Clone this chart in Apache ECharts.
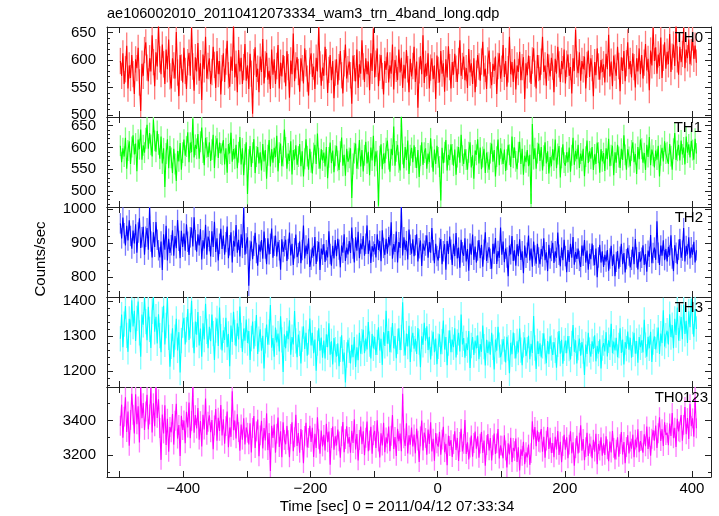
<!DOCTYPE html>
<html><head><meta charset="utf-8">
<script src="https://cdn.jsdelivr.net/npm/echarts@6/dist/echarts.min.js"></script>
<style>html,body{margin:0;padding:0;background:#fff}#c{width:719px;height:516px}</style>
</head><body><div id="c"></div>
<script>
// time bins: first bin centre and bin width (seconds)
const T0 = -499, BIN = 2;

const TH0 = [
598,571,612,556,583,626,548,590,567,609,
574,538,601,585,622,559,507,593,571,618,
632,586,561,603,579,645,596,552,614,588,
662,601,574,628,592,556,619,583,637,570,
548,603,590,566,651,577,534,609,586,559,
622,580,547,596,613,571,658,588,544,605,
579,631,562,594,527,610,583,642,566,589,
603,556,578,624,591,549,616,574,598,537,
585,612,560,597,635,572,551,606,580,663,
568,593,541,618,579,604,556,587,629,562,
590,547,611,575,502,596,623,569,584,541,
606,578,638,557,592,613,564,580,547,619,
573,601,556,589,627,548,595,570,609,583,
552,616,587,531,599,574,648,561,590,605,
578,542,603,585,557,621,594,566,535,598,
612,569,588,547,604,579,660,592,553,586,
571,624,596,540,582,609,563,598,530,577,
601,555,587,616,572,539,594,628,566,583,
597,572,520,608,585,561,619,549,592,575,
636,588,560,603,574,597,545,612,580,657,
568,593,621,552,586,609,571,537,598,582,
614,559,590,575,628,546,600,584,563,619,
577,604,549,591,566,618,583,541,602,570,
589,624,560,597,513,581,607,574,645,558,
593,571,612,548,586,603,565,590,529,608,
582,559,616,575,594,542,601,568,625,587,
548,596,573,611,584,560,598,636,571,589,
606,563,585,549,620,577,594,556,603,541,
575,609,588,562,597,633,570,584,547,599,
617,572,554,593,580,606,538,589,612,566,
584,627,569,598,551,583,642,574,596,560,
601,546,590,578,615,563,587,605,529,594,
572,608,583,556,599,621,575,548,609,585,
563,597,642,578,590,553,611,586,570,604,
588,541,602,575,624,592,560,598,583,619,
557,593,610,571,587,539,603,580,655,592,
576,614,562,598,583,606,548,591,617,569,
603,585,534,596,572,621,588,564,600,578,
592,559,611,583,646,570,597,552,608,586,
571,624,589,543,605,580,616,561,594,632,
583,598,568,612,587,550,603,579,621,574,
609,566,595,629,581,602,545,617,590,658,
598,623,575,610,589,641,567,604,632,584,
615,592,647,578,606,628,589,662,601,573,
624,596,611,658,585,619,603,637,592,614,
641,602,626,595
];

const TH1 = [
604,566,598,579,622,551,593,614,562,601,
628,584,609,545,618,596,641,572,605,588,
621,652,597,633,606,579,664,615,590,638,
607,574,625,563,598,509,586,619,552,603,
576,541,597,562,523,592,568,610,549,588,
618,581,602,635,566,611,589,666,577,606,
597,631,574,613,646,588,559,622,600,578,
612,569,595,629,553,603,621,576,611,586,
583,617,561,598,542,608,586,634,567,596,
574,606,552,589,624,561,598,536,584,612,
493,572,603,555,588,619,541,579,601,563,
589,547,608,568,594,528,582,617,556,596,
565,599,578,627,545,588,609,557,580,641,
600,551,586,569,614,538,594,572,605,560,
579,608,557,591,533,574,619,580,549,597,
566,540,587,606,562,632,575,551,596,570,
588,556,601,529,577,611,564,593,543,581,
604,569,548,590,623,558,583,535,597,567,
576,598,484,562,587,609,551,574,617,556,
594,545,582,613,563,590,536,600,570,627,
557,591,569,466,580,607,550,586,564,598,
616,573,544,597,582,648,558,591,606,566,
547,671,585,552,601,571,616,539,582,599,
566,605,577,553,594,532,581,612,560,588,
598,551,586,566,621,578,544,595,562,604,
577,556,478,599,564,589,617,547,583,571,
607,584,558,595,537,578,601,565,629,581,
562,596,572,549,589,612,554,582,528,593,
583,619,563,600,550,578,597,541,588,566,
549,587,609,567,594,533,579,618,559,598,
585,562,595,546,572,606,583,555,625,576,
600,568,550,589,613,562,597,537,581,566,
594,557,583,470,654,573,598,551,587,609,
569,601,547,581,612,563,591,540,578,557,
596,570,618,552,585,603,531,576,607,565,
558,589,566,600,544,582,622,560,592,573,
606,553,586,569,597,534,579,616,564,591,
574,601,548,584,562,611,588,542,596,568,
587,546,598,573,620,557,582,604,536,589,
565,606,578,553,597,571,628,583,549,596,
578,557,593,612,566,585,539,601,573,618,
597,565,587,548,606,578,624,559,595,581,
554,593,572,604,533,582,599,568,614,586,
589,562,608,580,549,597,633,571,592,606,
570,616,584,600,561,625,588,607,577,615,
594,572,620,586
];

const TH2 = [
958,914,975,929,893,951,908,967,921,884,
937,899,955,872,931,973,886,917,948,866,
919,944,881,1004,905,858,932,889,962,910,
879,858,905,821,926,881,951,849,913,871,
894,938,863,921,885,968,907,856,936,889,
928,878,955,904,865,917,946,890,976,909,
875,926,893,941,852,908,884,954,866,919,
906,861,935,889,963,874,914,849,898,942,
883,922,866,903,949,856,894,932,843,907,
890,953,872,910,861,926,886,1003,866,899,
917,775,878,905,853,892,930,871,834,896,
875,909,854,934,884,838,914,867,898,943,
857,892,922,861,904,879,822,911,874,891,
910,848,883,931,864,898,836,885,925,859,
871,905,841,880,952,855,893,868,914,830,
851,887,862,918,839,876,904,821,884,866,
897,845,879,858,935,868,834,892,855,909,
862,913,881,829,893,872,926,848,887,867,
906,871,946,884,843,917,878,933,856,899,
882,921,863,898,952,868,908,842,891,875,
897,858,926,880,906,847,938,886,865,913,
869,918,893,961,854,897,874,934,843,903,
886,1005,864,917,880,906,852,940,895,869,
911,862,894,926,846,885,908,833,899,878,
893,923,857,903,872,944,879,841,898,862,
849,886,912,838,876,897,822,906,868,919,
881,836,898,862,930,855,887,828,910,873,
863,914,846,883,819,899,866,925,851,890,
843,878,909,856,895,831,881,932,848,872,
888,854,825,898,869,915,839,877,857,946,
866,905,844,884,858,803,893,867,921,848,
879,834,897,862,911,851,876,812,893,857,
872,922,849,884,831,905,864,840,898,858,
838,883,861,914,850,873,818,895,855,877,
901,842,876,857,931,866,832,887,850,910,
862,815,880,845,898,857,918,837,874,854,
884,848,830,893,863,909,843,878,822,869,
853,899,864,835,884,800,858,895,843,876,
830,866,846,880,819,855,892,833,867,803,
845,877,825,860,898,838,871,814,853,886,
864,829,851,889,838,912,858,823,874,846,
857,894,836,868,816,878,860,924,841,871,
887,851,964,872,836,893,863,908,850,883,
846,889,864,923,855,818,894,872,838,881,
912,857,878,944,846,892,867,917,855,888,
866,904,843,879
];

const TH3 = [
1292,1361,1268,1334,1385,1302,1255,1349,1311,1402,
1327,1372,1286,1350,1398,1309,1241,1361,1332,1409,
1341,1288,1383,1319,1266,1370,1410,1312,1355,1279,
1362,1301,1254,1347,1386,1276,1330,1408,1296,1213,
1271,1322,1240,1297,1349,1259,1311,1196,1287,1331,
1352,1276,1318,1377,1289,1329,1400,1303,1251,1341,
1304,1368,1273,1321,1241,1336,1290,1392,1313,1265,
1326,1285,1361,1307,1232,1317,1350,1272,1381,1298,
1259,1316,1289,1352,1268,1306,1214,1330,1283,1369,
1310,1271,1336,1290,1384,1302,1255,1321,1287,1347,
1280,1314,1232,1293,1341,1264,1307,1360,1249,1291,
1319,1258,1301,1208,1286,1333,1275,1311,1388,1267,
1294,1241,1324,1282,1307,1256,1356,1289,1198,1305,
1265,1315,1291,1345,1247,1297,1276,1371,1286,1240,
1304,1279,1222,1291,1328,1263,1309,1244,1283,1350,
1273,1309,1251,1290,1201,1280,1322,1258,1296,1238,
1287,1236,1305,1268,1336,1247,1285,1219,1294,1261,
1241,1279,1214,1262,1302,1227,1253,1168,1246,1289,
1259,1222,1275,1240,1297,1212,1268,1231,1309,1250,
1284,1318,1251,1293,1262,1340,1277,1236,1306,1265,
1298,1246,1282,1325,1259,1292,1218,1311,1272,1372,
1278,1314,1254,1289,1337,1265,1300,1237,1285,1322,
1260,1296,1396,1280,1245,1307,1270,1329,1226,1291,
1309,1264,1292,1249,1323,1283,1211,1299,1275,1338,
1287,1328,1260,1298,1233,1280,1312,1254,1293,1220,
1271,1305,1248,1284,1344,1262,1297,1217,1280,1316,
1254,1290,1268,1322,1239,1283,1309,1256,1361,1276,
1294,1238,1279,1260,1314,1209,1273,1297,1246,1287,
1265,1302,1234,1277,1255,1330,1270,1216,1289,1252,
1284,1247,1309,1268,1205,1290,1258,1326,1274,1240,
1255,1291,1263,1225,1298,1266,1194,1281,1248,1310,
1272,1236,1285,1253,1321,1260,1217,1275,1296,1243,
1261,1301,1234,1278,1252,1357,1266,1206,1285,1249,
1279,1239,1272,1308,1256,1223,1286,1248,1299,1266,
1246,1283,1259,1210,1276,1314,1250,1289,1221,1265,
1287,1251,1300,1264,1233,1279,1331,1255,1288,1222,
1267,1293,1244,1283,1257,1189,1276,1249,1309,1260,
1241,1285,1263,1302,1228,1272,1250,1291,1208,1266,
1280,1256,1311,1242,1288,1268,1335,1251,1284,1259,
1295,1240,1273,1322,1252,1290,1219,1283,1264,1313,
1261,1295,1238,1276,1309,1250,1286,1224,1297,1268,
1288,1253,1346,1274,1241,1298,1265,1312,1226,1283,
1299,1262,1288,1324,1249,1307,1280,1373,1270,1301,
1315,1276,1362,1297,1331,1265,1349,1303,1381,1287,
1322,1354,1291,1389,1306,1343,1280,1370,1325,1405,
1341,1298,1377,1320
];

const TH0123 = [
3370,3493,3300,3423,3536,3333,3453,3253,3404,3557,
3434,3325,3554,3379,3483,3272,3596,3414,3502,3346,
3453,3551,3349,3436,3590,3330,3501,3367,3594,3416,
3525,3357,3171,3435,3325,3490,3258,3411,3218,3363,
3332,3439,3260,3399,3498,3295,3374,3193,3428,3345,
3401,3268,3452,3360,3505,3297,3398,3595,3329,3432,
3354,3474,3289,3397,3249,3434,3348,3529,3317,3393,
3431,3332,3403,3233,3372,3467,3283,3417,3340,3491,
3313,3408,3265,3368,3453,3245,3360,3305,3571,3344,
3401,3296,3437,3333,3224,3377,3289,3414,3261,3360,
3329,3261,3385,3214,3357,3427,3240,3337,3406,3192,
3314,3399,3237,3357,3284,3442,3228,3327,3106,3370,
3299,3377,3212,3324,3418,3246,3338,3186,3390,3287,
3262,3369,3286,3186,3322,3390,3222,3303,3434,3252,
3328,3213,3351,3287,3152,3311,3387,3243,3299,3370,
3276,3358,3188,3323,3241,3420,3291,3207,3342,3249,
3317,3226,3382,3274,3336,3142,3299,3365,3230,3309,
3255,3348,3279,3184,3309,3392,3215,3292,3367,3266,
3304,3212,3340,3269,3407,3232,3322,3168,3287,3365,
3263,3337,3198,3300,3395,3222,3284,3364,3207,3315,
3340,3241,3402,3278,3185,3326,3255,3388,3215,3302,
3266,3365,3222,3312,3432,3235,3304,3194,3352,3280,
3325,3221,3556,3296,3252,3384,3208,3314,3260,3360,
3249,3319,3209,3353,3283,3158,3308,3401,3226,3330,
3299,3201,3348,3264,3390,3220,3294,3166,3328,3267,
3248,3334,3201,3289,3364,3216,3265,3140,3312,3252,
3286,3188,3262,3337,3228,3299,3164,3275,3352,3220,
3264,3403,3205,3274,3174,3243,3313,3190,3269,3336,
3236,3308,3183,3266,3334,3211,3284,3137,3257,3321,
3226,3298,3167,3256,3325,3205,3267,3351,3179,3255,
3254,3180,3314,3226,3127,3268,3202,3300,3158,3241,
3222,3295,3159,3244,3109,3232,3194,3277,3145,3215,
3185,3260,3142,3210,3396,3290,3363,3251,3342,3276,
3272,3351,3219,3306,3183,3283,3363,3234,3301,3211,
3269,3186,3306,3231,3339,3200,3277,3157,3251,3317,
3230,3303,3180,3260,3338,3209,3274,3137,3239,3311,
3209,3271,3372,3225,3293,3169,3245,3329,3194,3266,
3249,3180,3288,3219,3323,3145,3264,3225,3302,3195,
3267,3200,3309,3233,3163,3278,3214,3339,3241,3174,
3231,3303,3189,3263,3333,3202,3275,3152,3246,3315,
3208,3278,3236,3318,3187,3289,3243,3350,3216,3281,
3283,3213,3320,3250,3366,3234,3306,3195,3294,3344,
3283,3371,3241,3326,3420,3281,3350,3252,3390,3316,
3329,3257,3383,3311,3444,3297,3358,3246,3410,3337,
3332,3432,3282,3375,3479,3320,3415,3293,3496,3367,
3413,3306,3538,3355
];

// approximate 1-sigma error-bar half-lengths (counts/sec)
const ERR = {TH0: 24, TH1: 24, TH2: 30, TH3: 36, TH0123: 58};

const TITLE = 'ae106002010_20110412073334_wam3_trn_4band_long.qdp';
const X_NAME = 'Time [sec] 0 = 2011/04/12 07:33:34';
const Y_NAME = 'Counts/sec';
const X_TICKS = [-500,-400,-300,-200,-100,0,100,200,300,400];
const X_LABELS = [-400,-200,0,200,400];

const PANELS = [
  {name:'TH0',    data:TH0,    color:'#ff0000', light:'#ff7a7a', min:496,  max:660,  major:[500,550,600,650], minorStart:500,  minorEnd:660,  minorStep:10,  labelRight:703},
  {name:'TH1',    data:TH1,    color:'#00ff00', light:'#80ff80', min:463,  max:670,  major:[500,550,600,650], minorStart:470,  minorEnd:670,  minorStep:10,  labelRight:702},
  {name:'TH2',    data:TH2,    color:'#0000ff', light:'#7a7aff', min:742,  max:1006, major:[800,900,1000],    minorStart:760,  minorEnd:1000, minorStep:20,  labelRight:703},
  {name:'TH3',    data:TH3,    color:'#00ffff', light:'#80ffff', min:1155, max:1411, major:[1200,1300,1400],  minorStart:1160, minorEnd:1400, minorStep:20,  labelRight:703},
  {name:'TH0123', data:TH0123, color:'#ff00ff', light:'#ff7aff', min:3071, max:3596, major:[3200,3400],       minorStart:3100, minorEnd:3500, minorStep:100, labelRight:708}
];

const FONT = '"Liberation Sans", Arial, Helvetica, sans-serif';
const TOP = 27, H = 90, LEFT = 107, RIGHT = 8;
const AX = '#222';
const fmt = v => v < 0 ? '\u2212' + (-v) : String(v);

const grids = [], xAxes = [], yAxes = [], series = [], graphics = [];
PANELS.forEach((p, i) => {
  grids.push({left: LEFT, right: RIGHT, top: TOP + H * i, height: H});
  ['bottom', 'top'].forEach(pos => {
    xAxes.push({
      type: 'value', gridIndex: i, position: pos, min: -520, max: 430,
      axisLine: {show: true, onZero: false, lineStyle: {color: AX, width: 1}},
      axisTick: {show: true, inside: true, length: 6, customValues: X_TICKS, lineStyle: {color: AX}},
      axisLabel: {show: pos === 'bottom' && i === PANELS.length - 1, customValues: X_LABELS,
        formatter: fmt, color: '#000', fontSize: 15, fontFamily: FONT, margin: 4},
      splitLine: {show: false}
    });
  });
  const minors = [];
  for (let v = p.minorStart; v <= p.minorEnd; v += p.minorStep) minors.push(v);
  ['left', 'right'].forEach(pos => {
    yAxes.push({
      type: 'value', gridIndex: i, position: pos, min: p.min, max: p.max,
      axisLine: {show: true, onZero: false, lineStyle: {color: AX, width: 1}},
      axisTick: {show: true, inside: true, length: 6, customValues: p.major, lineStyle: {color: AX}},
      axisLabel: {show: pos === 'left', customValues: p.major, formatter: fmt, color: '#000', fontSize: 15, fontFamily: FONT, margin: 11},
      splitLine: {show: false}
    });
    yAxes.push({
      type: 'value', gridIndex: i, position: pos, min: p.min, max: p.max,
      axisLine: {show: false, onZero: false},
      axisTick: {show: true, inside: true, length: 3, customValues: minors, lineStyle: {color: AX}},
      axisLabel: {show: false},
      splitLine: {show: false}
    });
  });
  const err = ERR[p.name];
  series.push({
    type: 'custom', name: p.name + ' err', xAxisIndex: i * 2, yAxisIndex: i * 4,
    data: p.data.map((v, k) => [T0 + k * BIN, v - err, v + err]),
    clip: true, silent: true, z: 1,
    renderItem: (params, api) => {
      const a = api.coord([api.value(0), api.value(1)]);
      const b = api.coord([api.value(0), api.value(2)]);
      return {type: 'line', shape: {x1: a[0], y1: a[1], x2: b[0], y2: b[1]},
        style: {stroke: p.light, lineWidth: 1.3}};
    }
  });
  series.push({
    type: 'line', name: p.name, xAxisIndex: i * 2, yAxisIndex: i * 4,
    data: p.data.map((v, k) => [T0 + k * BIN, v]),
    symbol: 'none', showSymbol: false, clip: true, silent: true, z: 2,
    lineStyle: {width: 1.1, color: p.color}, itemStyle: {color: p.color}
  });
  graphics.push({type: 'text', x: p.labelRight, y: TOP + H * i + 11, z: 100,
    style: {text: p.name, fill: '#000', fontSize: 15, fontFamily: FONT, align: 'right', verticalAlign: 'middle'}});
});

graphics.push({type: 'text', x: 107, y: 14,
  style: {text: TITLE, fill: '#000', fontSize: 14.5, fontFamily: FONT, align: 'left', verticalAlign: 'middle'}});
graphics.push({type: 'text', x: 397, y: 507,
  style: {text: X_NAME, fill: '#000', fontSize: 15, fontFamily: FONT, align: 'center', verticalAlign: 'middle'}});
graphics.push({type: 'text', x: 41, y: 259, rotation: Math.PI / 2,
  style: {text: Y_NAME, fill: '#000', fontSize: 15, fontFamily: FONT, align: 'center', verticalAlign: 'middle'}});

const chart = echarts.init(document.getElementById('c'), null, {renderer: 'canvas'});
chart.setOption({
  animation: false,
  backgroundColor: '#fff',
  grid: grids, xAxis: xAxes, yAxis: yAxes, series: series,
  graphic: {elements: graphics}
});
</script></body></html>
